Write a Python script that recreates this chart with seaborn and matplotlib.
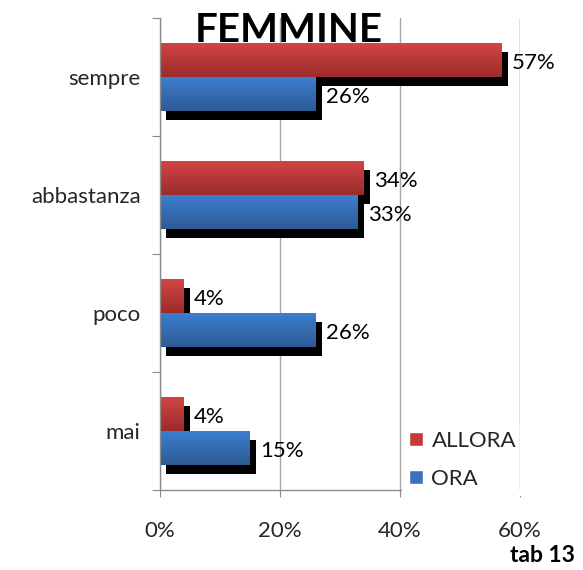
import matplotlib
matplotlib.use('Agg')
import matplotlib.pyplot as plt
import matplotlib.patheffects as pe
from matplotlib.patches import Patch
from matplotlib.colors import LinearSegmentedColormap
import seaborn as sns
import pandas as pd
import numpy as np

# dati
categorie = ['sempre', 'abbastanza', 'poco', 'mai']
allora = [57, 34, 4, 4]
ora = [26, 33, 26, 15]
serie = ['ALLORA', 'ORA']
x_ticks = [0, 20, 40, 60]
x_labels = ['0%', '20%', '40%', '60%']

df = pd.DataFrame({
    'categoria': categorie * 2,
    'valore': allora + ora,
    'serie': ['ALLORA'] * 4 + ['ORA'] * 4,
})

sns.set_style('white')
plt.rcParams['font.family'] = ['Lato', 'DejaVu Sans']

colori = {'ALLORA': '#c83a3a', 'ORA': '#3a72c0'}
gradienti = {
    'ALLORA': ('#d44545', '#9c2b2b'),
    'ORA': ('#3d7fd0', '#2e5a94'),
}
col_griglia = '#a6a6a6'

fig = plt.figure(figsize=(5.83, 5.70), dpi=100)
ax = fig.add_axes([160 / 583, 1 - 490 / 570, 360 / 583, 472 / 570])

sns.barplot(data=df, y='categoria', x='valore', hue='serie', order=categorie,
            hue_order=serie, palette=colori, width=0.58, orient='h',
            legend=False, ax=ax, zorder=2, linewidth=0)

ylim = ax.get_ylim()
ax.set_xlim(0, 60)

# ombre e sfumature sulle barre
n = len(categorie)
for i, bar in enumerate(ax.patches[:2 * n]):
    nome = serie[i // n]
    bar.set_edgecolor('none')
    bar.set_path_effects([pe.SimplePatchShadow(offset=(4.0, -6.5), shadow_rgbFace='black', alpha=1.0),
                          pe.Normal()])
    cmap = LinearSegmentedColormap.from_list(nome, gradienti[nome])
    x0, y0 = bar.get_x(), bar.get_y()
    w, h = bar.get_width(), bar.get_height()
    grad = np.linspace(0, 1, 64).reshape(-1, 1)
    im = ax.imshow(grad, cmap=cmap, aspect='auto', origin='upper',
                   extent=(x0, x0 + w, y0 + h, y0), zorder=bar.get_zorder() + 0.1)
    im.set_clip_path(bar)

ax.set_ylim(ylim)
ax.set_xlim(0, 60)

# etichette dei valori
for i, bar in enumerate(ax.patches[:2 * n]):
    val = bar.get_width()
    ax.annotate(f'{val:.0f}%', (val, bar.get_y() + bar.get_height() / 2),
                xytext=(7, -2), textcoords='offset points', ha='left', va='center',
                fontsize=16, color='black', zorder=5)

# assi
ax.set_xticks(x_ticks)
ax.set_xticklabels(x_labels, fontsize=16)
ax.set_yticks(np.arange(-0.5, n, 1.0))
ax.set_yticklabels([])
ax.set_yticks(np.arange(n), minor=True)
ax.set_yticklabels(categorie, minor=True, fontsize=16)
ax.tick_params(axis='y', which='major', length=6, color='#8c8c8c', direction='out', left=True)
ax.tick_params(axis='y', which='minor', length=0, pad=14)
ax.tick_params(axis='x', length=5, color='#8c8c8c', direction='out', bottom=True, pad=17)
ax.set_xlabel('')
ax.set_ylabel('')
for s in ['top', 'right']:
    ax.spines[s].set_visible(False)
for s in ['left', 'bottom']:
    ax.spines[s].set_color('#8c8c8c')
    ax.spines[s].set_linewidth(1)
ax.grid(axis='x', color=col_griglia, linewidth=1)
ax.set_axisbelow(True)

handles = [Patch(facecolor=colori[s], label=s) for s in serie]
leg = ax.legend(handles=handles, loc='upper left', bbox_to_anchor=(0.672, 0.139),
                fontsize=16, frameon=True, framealpha=1, edgecolor='none',
                facecolor='white', handlelength=0.63, handleheight=0.6,
                handletextpad=0.4, labelspacing=0.8, borderpad=0.3,
                borderaxespad=0, fancybox=False)
leg.set_zorder(6)
# la linea del 60% resta visibile sopra il riquadro della legenda
ax.axvline(x_ticks[-1], color=col_griglia, linewidth=1, zorder=7)

fig.text(289 / 583, 1 - 42 / 570, 'FEMMINE', ha='center', va='baseline',
         fontsize=29, fontweight='bold', color='black')
fig.text(575 / 583, 1 - 556 / 570, 'tab 13', ha='right', va='center',
         fontsize=16.5, fontweight='bold', color='black')

fig.savefig('out.png', dpi=100)
